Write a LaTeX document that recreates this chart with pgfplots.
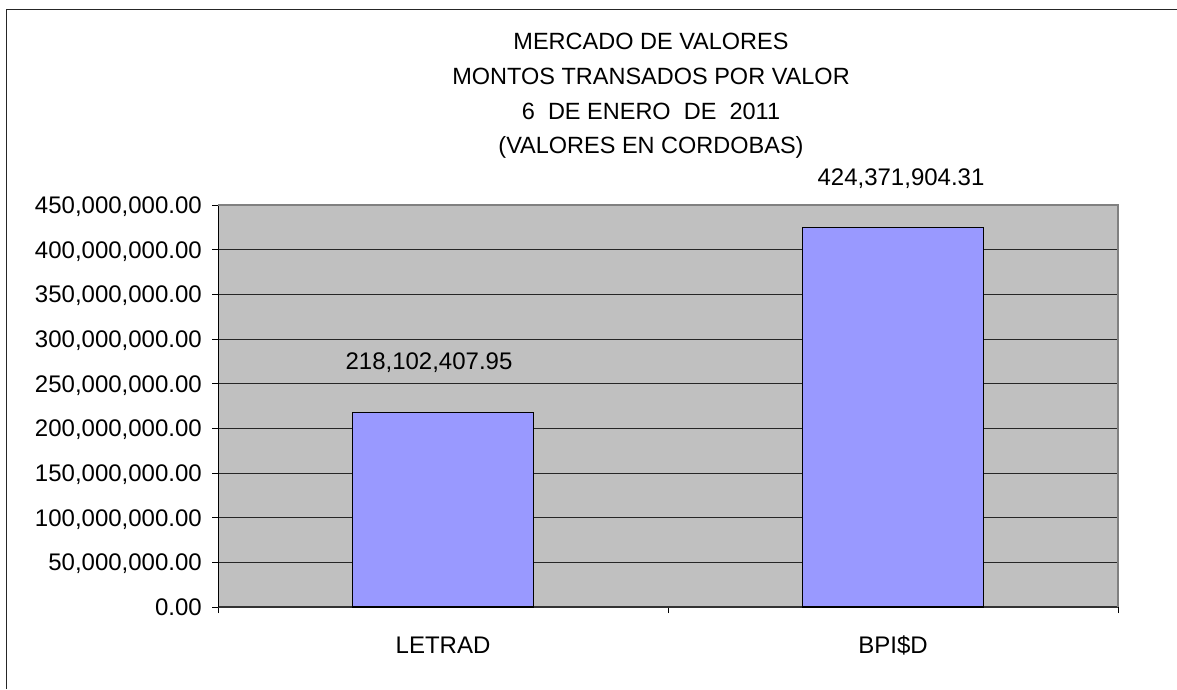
\documentclass[border=0pt]{standalone}
\usepackage{fontspec}
\setmainfont{Liberation Sans}
\usepackage{pgfplots}
\pgfplotsset{compat=1.18}
\definecolor{plotbg}{HTML}{C0C0C0}
\definecolor{barfill}{HTML}{9999FF}
\begin{document}
\begin{tikzpicture}[x=1pt,y=1pt]
\useasboundingbox (0,0) rectangle (1177,689);
\fill[white] (0,0) rectangle (1177,689);
\draw[line width=1.5pt, black!85] (6.5,0) -- (6.5,679.5) -- (1177,679.5);
\begin{scope}[font=\fontsize{23.5}{28}\selectfont]
\node[anchor=base] at (651,639) {MERCADO DE VALORES};
\node[anchor=base] at (651,604) {MONTOS TRANSADOS POR VALOR};
\node[anchor=base] at (651,569) {6~ DE ENERO~ DE~ 2011};
\node[anchor=base] at (651,535) {(VALORES EN CORDOBAS)};
\end{scope}
\begin{axis}[
  at={(218pt,82pt)}, anchor=south west,
  scale only axis, width=900pt, height=402pt,
  xmin=-0.5, xmax=1.5, ymin=0, ymax=450,
  axis background/.style={fill=plotbg},
  axis x line*=bottom, axis y line*=left,
  x axis line style={-, black!80, line width=1.8pt},
  y axis line style={-, black, line width=1pt},
  tick align=outside, major tick length=6pt,
  tick style={black, line width=0.8pt},
  xtick={-0.5,0.5,1.5}, xticklabels={},
  extra x ticks={0,1}, extra x tick labels={LETRAD,BPI\$D},
  extra x tick style={major tick length=0pt, grid=none,
    xticklabel style={anchor=base, yshift=-46pt, inner sep=0pt,
      font=\fontsize{24}{28}\selectfont}},
  ytick={0,50,100,150,200,250,300,350,400,450},
  yticklabels={{0.00},{50,000,000.00},{100,000,000.00},{150,000,000.00},{200,000,000.00},{250,000,000.00},{300,000,000.00},{350,000,000.00},{400,000,000.00},{450,000,000.00}},
  yticklabel style={anchor=base east, inner sep=0pt, xshift=-10pt, yshift=-8.6pt,
    font=\fontsize{24}{28}\selectfont},
  ymajorgrids, major grid style={black!85, line width=0.8pt},
  clip=false,
]
\addplot[ybar, bar width=181pt, bar shift=0pt, fill=barfill, draw=black, line width=1.2pt,
  nodes near coords={{218,102,407.95}},
  every node near coord/.append style={anchor=base, yshift=42.5pt, xshift=-14pt, inner sep=0pt,
    text=black, font=\fontsize{24}{28}\selectfont}]
  coordinates {(0,218.10240795)};
\addplot[ybar, bar width=181pt, bar shift=0pt, fill=barfill, draw=black, line width=1.2pt,
  nodes near coords={{424,371,904.31}},
  every node near coord/.append style={anchor=base, yshift=42.5pt, xshift=8pt, inner sep=0pt,
    text=black, font=\fontsize{24}{28}\selectfont}]
  coordinates {(1,424.37190431)};
\draw[gray, line width=1.5pt] (rel axis cs:0,1) -- (rel axis cs:1,1) -- (rel axis cs:1,0);
\end{axis}
\end{tikzpicture}
\end{document}
